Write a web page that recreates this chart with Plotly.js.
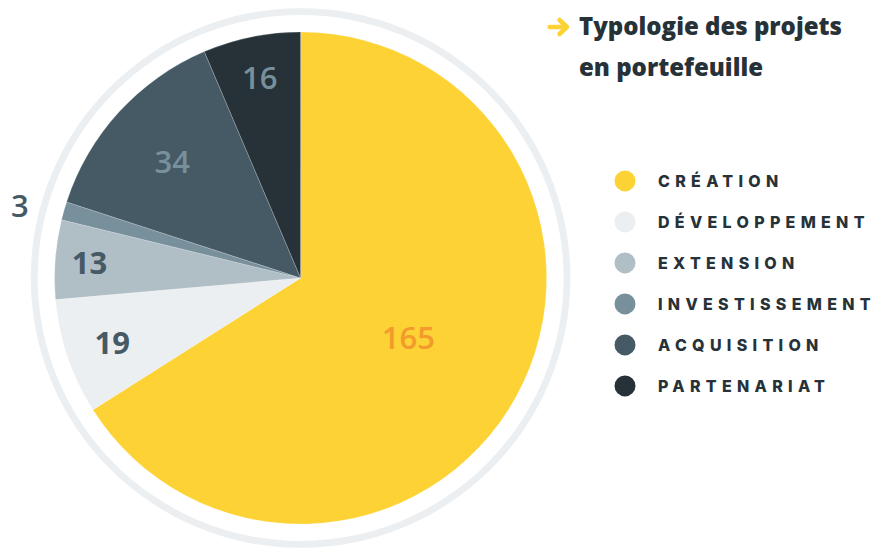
<!DOCTYPE html>
<html>
<head>
<meta charset="utf-8">
<script src="https://cdn.plot.ly/plotly-3.0.1.min.js"></script>
<style>
  html, body { margin: 0; padding: 0; background: #fff; }
  #chart { width: 881px; height: 551px; }
  .legendtext { letter-spacing: 5.3px !important; }
  .shapelayer path { stroke-linecap: round; stroke-linejoin: round; }
</style>
</head>
<body>
<div id="chart"></div>
<script>
// ---- data ----
const categories = ["CRÉATION", "DÉVELOPPEMENT", "EXTENSION", "INVESTISSEMENT", "ACQUISITION", "PARTENARIAT"];
const values = [165, 19, 13, 3, 34, 16];
const colors = ["#FDD235", "#ECEFF1", "#B0BEC5", "#78909C", "#455A64", "#263238"];
const labelColors = ["#F39A2C", "#455A64", "#455A64", "#455A64", "#78909C", "#78909C"];
const labelWeights = [600, 700, 700, 600, 600, 600];
const titleLines = ["Typologie des projets", "en portefeuille"];

const W = 881, H = 551;
const cx = 303, cy = 278, r = 248, ringR = 272, ringInner = 265;

function dom(cxp, cyp, rad) {
  const yb = H - cyp;
  return { x: [(cxp - rad) / W, (cxp + rad) / W], y: [(yb - rad) / H, (yb + rad) / H] };
}
function px(x) { return x / W; }
function py(y) { return 1 - y / H; }

const ring = {
  type: "pie",
  values: [1],
  labels: ["ring"],
  marker: { colors: ["#ECEFF1"], line: { width: 0 } },
  hole: ringInner / ringR,
  textinfo: "none",
  hoverinfo: "skip",
  showlegend: false,
  sort: false,
  domain: dom(cx, cy, ringR)
};

const pie = {
  type: "pie",
  values: values,
  labels: categories,
  marker: { colors: colors, line: { width: 0.6, color: "rgba(255,255,255,0.35)" } },
  sort: false,
  direction: "clockwise",
  rotation: 0,
  textinfo: "value",
  textposition: values.map((v, i) => i === 3 ? "none" : "inside"),
  insidetextorientation: "horizontal",
  insidetextfont: { family: "Open Sans", size: 31, color: labelColors, weight: labelWeights },
  showlegend: false,
  hoverinfo: "label+value",
  domain: dom(cx, cy, r)
};

const legendTraces = categories.map((c, i) => ({
  type: "scatter",
  mode: "markers",
  x: [null], y: [null],
  name: c,
  legendgroup: "g" + i,
  marker: { size: 16, color: colors[i], line: { width: 5, color: colors[i] } },
  hoverinfo: "skip"
}));

const layout = {
  width: W, height: H,
  margin: { l: 0, r: 0, t: 0, b: 0 },
  paper_bgcolor: "#ffffff",
  plot_bgcolor: "rgba(0,0,0,0)",
  xaxis: { visible: false },
  yaxis: { visible: false },
  showlegend: true,
  legend: {
    x: 597 / W, xanchor: "left",
    y: 1 - 164 / H, yanchor: "top",
    itemwidth: 56,
    traceorder: "grouped",
    tracegroupgap: 17.2,
    font: { family: "Inter", size: 16, color: "#263238", weight: 800 },
    bgcolor: "rgba(0,0,0,0)"
  },
  shapes: [
    { type: "path", xref: "paper", yref: "paper",
      path: `M ${px(554)} ${py(27)} L ${px(571)} ${py(27)} M ${px(564)} ${py(20)} L ${px(571.5)} ${py(27)} L ${px(564)} ${py(34)}`,
      line: { color: "#FDD235", width: 4.5 } }
  ],
  annotations: [
    { xref: "paper", yref: "paper", x: px(582), y: py(25), xanchor: "left", yanchor: "middle",
      text: titleLines[0], showarrow: false, font: { family: "Open Sans", size: 24, color: "#263238", weight: 800 } },
    { xref: "paper", yref: "paper", x: px(582), y: py(67), xanchor: "left", yanchor: "middle",
      text: titleLines[1], showarrow: false, font: { family: "Open Sans", size: 24, color: "#263238", weight: 800 } },
    { xref: "paper", yref: "paper", x: px(20), y: py(205), xanchor: "center", yanchor: "middle",
      text: String(values[3]), showarrow: false, font: { family: "Open Sans", size: 31, color: labelColors[3], weight: 600 } }
  ]
};

Plotly.newPlot("chart", [ring, pie].concat(legendTraces), layout, { displayModeBar: false, staticPlot: true });
</script>
</body>
</html>
